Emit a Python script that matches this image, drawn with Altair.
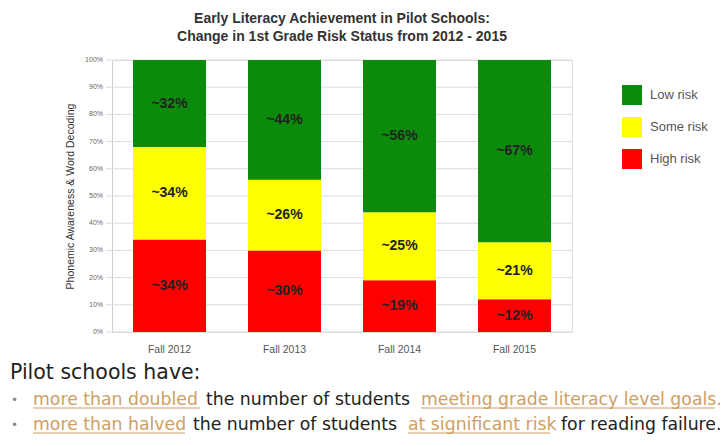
import altair as alt
import pandas as pd

# ---- data ----
years = ["Fall 2012", "Fall 2013", "Fall 2014", "Fall 2015"]
low_risk = [32, 44, 56, 67]
some_risk = [34, 26, 25, 21]
high_risk = [34, 30, 19, 12]
categories = ["Low risk", "Some risk", "High risk"]
colors = ["#0b8a0b", "#ffff00", "#ff0000"]
y_ticks = list(range(0, 101, 10))
y_tick_labels = ["%d%%" % t for t in y_ticks]
title_lines = ["Early Literacy Achievement in Pilot Schools:",
               "Change in 1st Grade Risk Status from 2012 - 2015"]
y_title = "Phonemic Awareness & Word Decoding"
heading = "Pilot schools have:"
line1 = [("more than doubled", True), ("the number of students", False),
         ("meeting grade literacy level goals.", True)]
line2 = [("more than halved", True), ("the number of students", False),
         ("at significant risk", True), ("for reading failure.", False)]

rows = []
for i, y in enumerate(years):
    for cat, vals, rank in [("High risk", high_risk, 0), ("Some risk", some_risk, 1),
                            ("Low risk", low_risk, 2)]:
        rows.append({"year": y, "risk": cat, "value": vals[i], "rank": rank,
                     "label": "~%d%%" % vals[i]})
df = pd.DataFrame(rows)
ticks_df = pd.DataFrame({"tick": y_ticks, "tlabel": y_tick_labels})

# ---- layout ----
W, H = 460, 272
PAD = {"left": 112, "top": 60, "right": 154, "bottom": 114}
TAN = "#d09e63"
TXT = "#222222"
FONT = "DejaVu Sans"
seg_x1 = [33, 206, 421]
seg_x2 = [33, 193, 408, 561]
ul1 = [(33, 200), (421, 715)]
ul2 = [(33, 185), (408, 550)]
y_head, y_l1, y_l2 = 313, 340, 365

y_scale = alt.Scale(domain=[0, 100], nice=False)
y_axis = alt.Axis(grid=False, labels=False, ticks=False,
                  domainColor="#cfcfcf",
                  titleFontSize=10.5, titleFont="Liberation Sans",
                  titleFontWeight="normal", titleColor="#333",
                  titlePadding=37)
x_enc = alt.X("year:N", sort=years, title=None,
              scale=alt.Scale(paddingInner=0.37, paddingOuter=0.185),
              axis=alt.Axis(labelAngle=0, labelFontSize=10.5, labelColor="#555",
                            ticks=False, domain=False, labelPadding=12,
                            labelFont="Liberation Sans"))

grid = alt.Chart(ticks_df).mark_rule(color="#dcdcdc", strokeWidth=1).encode(
    y=alt.Y("tick:Q", scale=y_scale, title=y_title, axis=y_axis),
    x=alt.value(-6), x2=alt.value(W),
)
tick_text = alt.Chart(ticks_df).mark_text(
    align="right", baseline="middle", fontSize=7, color="#666",
    font="Liberation Sans"
).encode(
    y=alt.Y("tick:Q", scale=y_scale, title=y_title, axis=y_axis),
    x=alt.value(-9), text="tlabel:N",
)

base = alt.Chart(df)

bars = base.mark_bar(size=73).encode(
    x=x_enc,
    y=alt.Y("value:Q", stack="zero", title=y_title, scale=y_scale, axis=y_axis),
    color=alt.Color("risk:N", scale=alt.Scale(domain=categories, range=colors),
                    legend=alt.Legend(title=None, orient="none", legendX=510,
                                      legendY=25, symbolType="square",
                                      symbolSize=400, symbolStrokeWidth=0,
                                      symbolOpacity=1,
                                      labelFontSize=13, labelColor="#555",
                                      labelFont="Liberation Sans",
                                      rowPadding=12, labelOffset=8)),
    order=alt.Order("rank:Q"),
)

labels = base.transform_stack(
    stack="value", as_=["v0", "v1"], groupby=["year"],
    sort=[alt.SortField("rank", order="ascending")]
).transform_calculate(mid="(datum.v0 + datum.v1) / 2").mark_text(
    fontSize=14, fontWeight="bold", color="#222", font="Liberation Sans"
).encode(
    x=x_enc,
    y=alt.Y("mid:Q", title=y_title, scale=y_scale, axis=y_axis),
    text="label:N",
)

layers = [grid, tick_text, bars, labels]

one = pd.DataFrame({"a": [0]})

def txt(s, x, y, color, size=17.3, weight="normal"):
    return alt.Chart(one).mark_text(
        text=s, align="left", baseline="middle", fontSize=size,
        font=FONT, color=color, fontWeight=weight
    ).encode(x=alt.value(x - PAD["left"]), y=alt.value(y))

def uline(x1, x2, y):
    return alt.Chart(one).mark_rule(color=TAN, strokeWidth=1).encode(
        x=alt.value(x1 - PAD["left"]), x2=alt.value(x2 - PAD["left"]),
        y=alt.value(y))

layers.append(txt(heading, 10, y_head, TXT, size=20.5))
for yy in (y_l1, y_l2):
    layers.append(txt("•", 11, yy, "#888", size=12))
for (s, tan), x in zip(line1, seg_x1):
    layers.append(txt(s, x, y_l1, TAN if tan else TXT))
for (s, tan), x in zip(line2, seg_x2):
    layers.append(txt(s, x, y_l2, TAN if tan else TXT))
for a, b in ul1:
    layers.append(uline(a, b, y_l1 + 8))
for a, b in ul2:
    layers.append(uline(a, b, y_l2 + 8))

chart = alt.layer(*layers).properties(
    width=W, height=H,
    title=alt.TitleParams(title_lines, fontSize=14, font="Liberation Sans",
                          fontWeight="bold", color="#333", anchor="middle",
                          offset=12, lineHeight=18),
    autosize=alt.AutoSizeParams(type="none"),
    padding=PAD,
).configure_view(stroke=None).configure(background="white")

chart.save("out.html", embed_options={"renderer": "svg", "actions": False})
